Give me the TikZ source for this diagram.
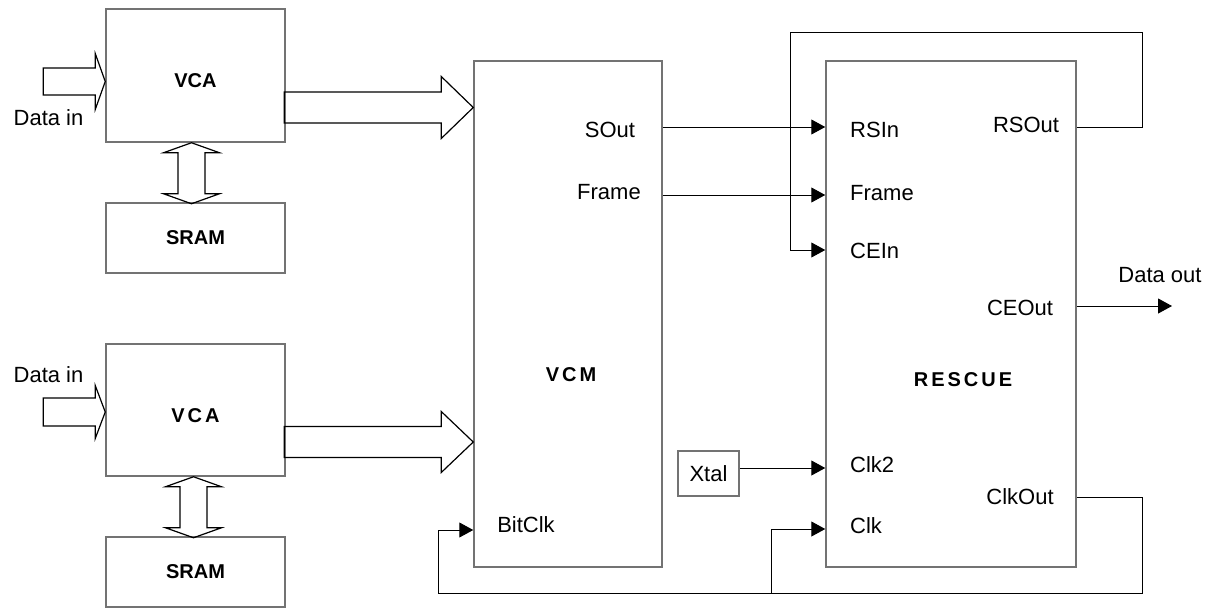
\documentclass[tikz,border=0pt]{standalone}
\usepackage{fontspec}
\setmainfont{Liberation Sans}
\usetikzlibrary{arrows.meta,calc}

\tikzset{
  block/.style={draw=black!55, line width=1.5pt, minimum width=179pt, inner sep=0pt,
    font=\fontsize{20}{24}\selectfont\bfseries},
  low/.style={text height=24pt, text depth=0pt},
  spaced/.style={inner sep=0pt,
    font=\fontsize{20}{24}\selectfont\bfseries\addfontfeature{LetterSpace=15}},
  port/.style={inner sep=0pt, font=\fontsize{22}{26}\selectfont},
  wire/.style={line width=1pt},
  sig/.style={wire, -{Triangle[length=14pt,width=15pt]}},
  bus/.style={line width=1.2pt, line join=miter},
}

\begin{document}
\begin{tikzpicture}[x=1pt,y=-1pt]
\useasboundingbox (0,0) rectangle (1213,608);

% VCA / SRAM pairs
\node[block, low, minimum height=133pt] (vcaA) at (195.5,75.5) {VCA};
\node[block, minimum height=70pt] (sramA) at (195.5,238) {SRAM};
\node[block, low, minimum height=132pt, font=\fontsize{20}{24}\selectfont\bfseries\addfontfeature{LetterSpace=15}] (vcaB) at (195.5,410) {VCA};
\node[block, minimum height=70pt] (sramB) at (195.5,572) {SRAM};

% VCM and RESCUE
\node[block, minimum width=188pt, minimum height=506pt] (vcm) at (568,314) {};
\node[spaced] (vcmlbl) at (571,375) {VCM};
\node[block, minimum width=250pt, minimum height=506pt] (rescue) at (951,314) {};
\node[spaced] (rescuelbl) at (963,380) {RESCUE};
\node[block, port, minimum width=61pt, minimum height=45pt] (xtal) at (708.5,473.5) {Xtal};

% port labels
\node[port, anchor=base] (soutlbl) at (610,137) {SOut};
\node[port, anchor=base] (vframelbl) at (609,199) {Frame};
\node[port, anchor=base] (bitclklbl) at (526,532) {BitClk};
\node[port, anchor=base west] (rsinlbl) at (850,137) {RSIn};
\node[port, anchor=base west] (rframelbl) at (850,200) {Frame};
\node[port, anchor=base west] (ceinlbl) at (850,258) {CEIn};
\node[port, anchor=base west] (clktwolbl) at (850,472) {Clk2};
\node[port, anchor=base west] (clklbl) at (850,533) {Clk};
\node[port, anchor=base] (rsoutlbl) at (1026,132) {RSOut};
\node[port, anchor=base] (ceoutlbl) at (1020,315) {CEOut};
\node[port, anchor=base] (clkoutlbl) at (1020,504) {ClkOut};
\node[port, anchor=base] (doutlbl) at (1160,282) {Data out};
\node[port, anchor=base] (dinAlbl) at (48.5,125) {Data in};
\node[port, anchor=base] (dinBlbl) at (48.5,382) {Data in};

% data in
\draw[bus] (vcaA.west |- 0,81.5) -- ++(-10,-28) -- ++(0,14.5) -- ++(-52,0)
  -- ++(0,27) -- ++(52,0) -- ++(0,14.5) -- cycle;
\draw[bus] (vcaB.west |- 0,412) -- ++(-10,-26.5) -- ++(0,12.5) -- ++(-52,0)
  -- ++(0,28) -- ++(52,0) -- ++(0,12.5) -- cycle;

% VCA <-> SRAM
\draw[bus] ([xshift=-4pt]vcaA.south) -- ++(28,10) -- ++(-14.5,0) -- ++(0,41) -- ++(14.5,0)
  -- ++(-28,10) -- ++(-28,-10) -- ++(14.5,0) -- ++(0,-41) -- ++(-14.5,0) -- cycle;
\draw[bus] ([xshift=-2pt]vcaB.south) -- ++(28,10) -- ++(-14.5,0) -- ++(0,41) -- ++(14.5,0)
  -- ++(-28,10) -- ++(-28,-10) -- ++(14.5,0) -- ++(0,-41) -- ++(-14.5,0) -- cycle;

% VCA -> VCM
\draw[bus] (vcm.west |- 0,107.5) -- ++(-32,-31) -- ++(0,15.5) -- ++(-157,0)
  -- ++(0,31) -- ++(157,0) -- ++(0,15.5) -- cycle;
\draw[bus] (vcm.west |- 0,442) -- ++(-32,-30.5) -- ++(0,15) -- ++(-157,0)
  -- ++(0,31) -- ++(157,0) -- ++(0,15) -- cycle;

% VCM -> RESCUE
\draw[sig] (vcm.east |- 0,127) -- (rescue.west |- 0,127);
\draw[sig] (vcm.east |- 0,195) -- (rescue.west |- 0,195);

% RSOut back to CEIn
\draw[sig] (rescue.east |- 0,127) -| (1142,32) -| (790,250) -- (rescue.west |- 0,250);

% data out
\coordinate (dout) at (1172,306);
\draw[sig] (rescue.east |- dout) -- (dout);

% clocks
\draw[sig] (xtal.east |- 0,468) -- (rescue.west |- 0,468);
\coordinate (clktap) at (771,593);
\draw[wire] (rescue.east |- 0,497) -| (1142,593) -- (clktap);
\draw[sig] (clktap) -| (438,530) -- (vcm.west |- 0,530);
\draw[sig] (clktap) |- (rescue.west |- 0,529);

\end{tikzpicture}
\end{document}
